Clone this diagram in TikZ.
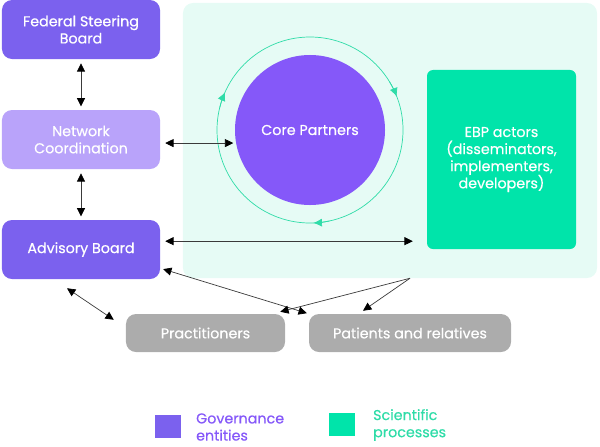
\documentclass[tikz,border=0pt]{standalone}
\usepackage{fontspec}
\setmainfont{Poppins}[FakeBold=0.5]
\usepackage{xcolor}
\usetikzlibrary{positioning, arrows.meta, calc}

\definecolor{govpurple}{HTML}{7B61EE}
\definecolor{corepurple}{HTML}{8558F9}
\definecolor{netpurple}{HTML}{B9A3FA}
\definecolor{scigreen}{HTML}{00E4AA}
\definecolor{ringgreen}{HTML}{2FDCA8}
\definecolor{zonemint}{HTML}{E6FBF5}
\definecolor{stakegrey}{HTML}{ACACAC}
\definecolor{linkgrey}{HTML}{3A3A3A}

\begin{document}
\begin{tikzpicture}[x=0.03cm, y=-0.03cm,
	>={Triangle[length=0.25cm, width=0.24cm, color=black]},
	boxtext/.style={text=white, align=center, font=\fontsize{12.2pt}{14.6pt}\selectfont},
	govbox/.style={boxtext, fill=govpurple, rounded corners=0.3cm, minimum width=4.74cm, minimum height=1.77cm},
	greybox/.style={boxtext, fill=stakegrey, rounded corners=0.3cm, minimum height=1.14cm},
	link/.style={draw=linkgrey, line width=0.6pt},
	legendtext/.style={anchor=west, align=left, font=\fontsize{12.2pt}{14.6pt}\selectfont}
	]
	% Define constants
	\def\R{2.79cm}  % Radius of the ring round the core partners
	
	\useasboundingbox (0,0) rectangle (600,446);
	
	% Background zone of the scientific processes
	\node[fill=zonemint, rounded corners=0.3cm, minimum width=12.42cm, minimum height=8.25cm] (zone) at (390,140.5) {};
	
	% Governance entities on the left
	\node[govbox] (fsb) at (81,29.5) {Federal Steering\\Board};
	\node[govbox, fill=netpurple] (netco) at (81,139.5) {Network\\Coordination};
	\node[govbox] (advb) at (81,249.5) {Advisory Board};
	
	% Core partners with the ring round them
	\draw[ringgreen, line width=0.6pt] (310,130) circle[radius=\R];
	\foreach \a in {166, 31, -78} {
		\draw[ringgreen, line width=0.6pt, -{Latex[length=0.26cm, width=0.24cm]}]
			($(310,130)+(\a:\R)$) arc[start angle=\a, end angle=\a-10, radius=\R];
	}
	\node[circle, fill=corepurple, minimum size=4.5cm, boxtext] (core) at (310,130) {Core Partners};
	
	% EBP actors
	\node[boxtext, fill=scigreen, rounded corners=0.18cm, minimum width=4.47cm, minimum height=5.37cm] (ebp) at (501.5,159.5) {EBP actors\\(disseminators,\\implementers,\\developers)};
	
	% Practitioners, patients and relatives
	\node[greybox, minimum width=4.77cm] (prac) at (205.5,333) {Practitioners};
	\node[greybox, minimum width=6.06cm] (pat) at (410,333) {Patients and relatives};
	
	% Connectors
	\draw[link, <->, shorten <=0.12cm, shorten >=0.1cm] (fsb.south) -- (netco.north);
	\draw[link, <->, shorten <=0.12cm, shorten >=0.1cm] (netco.south) -- (advb.north);
	\draw[link, <->, shorten <=0.15cm, shorten >=0.08cm] (netco.east |- core.190) -- (core.190);
	\draw[link, <->, shorten <=0.15cm, shorten >=0.42cm] ([yshift=0.25cm]advb.east) -- ([yshift=0.25cm]advb.east -| ebp.west);
	\draw[link, <->] ([xshift=-0.42cm, yshift=-0.27cm]advb.south) -- ([xshift=-0.36cm, yshift=-0.18cm]prac.north west);
	\draw[link, <->, shorten <=0.09cm, shorten >=0.06cm] ([yshift=0.33cm]advb.south east) -- (pat.north west);
	
	\coordinate (split) at (zone.south -| pat);
	\draw[link, ->] (split) -- ([xshift=-0.15cm, yshift=0.06cm]prac.north east);
	\draw[link, ->] (split) -- ([xshift=-1.41cm, yshift=0.09cm]pat.north);
	
	% Legend
	\node[fill=govpurple, minimum width=0.78cm, minimum height=0.69cm] (govkey) at (168,426) {};
	\node[legendtext, text=corepurple] (govlabel) at (192,427) {Governance\\entities};
	\node[fill=scigreen, minimum width=0.78cm, minimum height=0.69cm] (scikey) at (342,424.5) {};
	\node[legendtext, text=ringgreen] (scilabel) at (369,425) {Scientific\\processes};
	
\end{tikzpicture}
\end{document}
